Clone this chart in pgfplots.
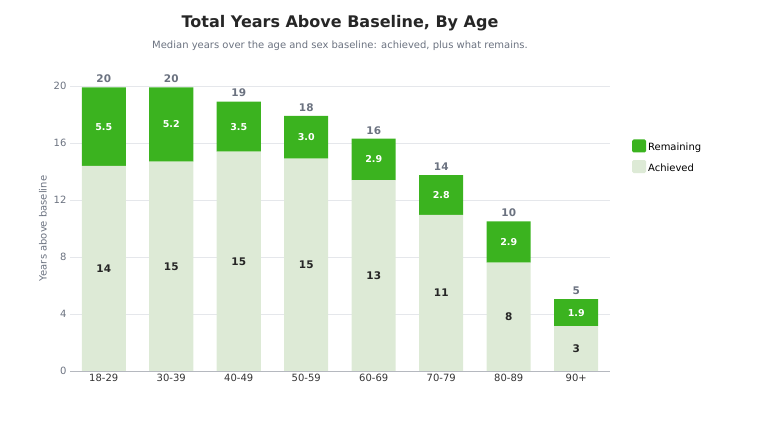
\documentclass[border=0pt]{standalone}
\usepackage{pgfplots}
\pgfplotsset{compat=1.18}
\usepackage{pgfplotstable}
\usepackage{fontspec}
\setmainfont{DejaVu Sans}
\definecolor{dk}{HTML}{3BB31F}
\definecolor{lt}{HTML}{DDEAD6}
\definecolor{gr}{HTML}{6B7280}
\definecolor{gl}{HTML}{E5E7EB}
\pgfplotstableread{
x ach rem tot am rm al rl tl
0 14.4 5.5 19.9 7.2 17.15 14 5.5 20
1 14.7 5.2 19.9 7.35 17.3 15 5.2 20
2 15.4 3.5 18.9 7.7 17.15 15 3.5 19
3 14.9 3.0 17.9 7.45 16.4 15 3.0 18
4 13.4 2.9 16.3 6.7 14.85 13 2.9 16
5 10.95 2.8 13.75 5.475 12.35 11 2.8 14
6 7.6 2.9 10.5 3.8 9.05 8 2.9 10
7 3.15 1.9 5.05 1.575 4.1 3 1.9 5
}\data
\begin{document}
\begin{tikzpicture}
\path (0pt,0pt) rectangle (760pt,430pt);
\node[font=\bfseries\fontsize{16}{19}\selectfont, text=black!85] at (340pt,407pt) {Total Years Above Baseline, By Age};
\node[font=\fontsize{10}{12}\selectfont, text=gr] at (340pt,384pt) {Median years over the age and sex baseline: achieved, plus what remains.};
\begin{axis}[at={(70pt,59pt)}, anchor=south west, scale only axis, width=540pt, height=285pt,
  xmin=-0.5, xmax=7.5, ymin=0, ymax=20, clip=false,
  ybar stacked, bar width=44pt,
  xtick={0,...,7}, xticklabels={18-29,30-39,40-49,50-59,60-69,70-79,80-89,90+},
  ytick={0,4,8,12,16,20}, ymajorgrids, grid style={gl},
  axis x line*=bottom, axis y line*=left, y axis line style={draw=none},
  x axis line style={draw=gr!50},
  tick style={draw=none},
  ticklabel style={font=\fontsize{10}{12}\selectfont},
  yticklabel style={text=gr}, xticklabel style={text=black!80},
  /pgf/number format/assume math mode=true,
  ylabel={Years above baseline}, ylabel style={font=\fontsize{10}{12}\selectfont, text=gr},
  legend style={at={(1.035,0.82)}, anchor=north west, draw=none, font=\fontsize{10}{12}\selectfont, row sep=6pt},
  legend cell align=left, reverse legend,
  legend image code/.code={\fill[#1, rounded corners=1.5pt] (0,-5pt) rectangle (14pt,8pt);},
]
\addplot[fill=lt, draw=none] table[x=x,y=ach]{\data};
\addplot[fill=dk, draw=none] table[x=x,y=rem]{\data};
\legend{Achieved,Remaining}
\end{axis}
\begin{axis}[at={(70pt,59pt)}, anchor=south west, scale only axis, width=540pt, height=285pt,
  xmin=-0.5, xmax=7.5, ymin=0, ymax=20, clip=false, axis lines=none,
  point meta=explicit symbolic, nodes near coords align=center]
\addplot[draw=none, nodes near coords, nodes near coords style={font=\bfseries\fontsize{10.5}{12}\selectfont, text=black!85}] table[x=x,y=am,meta=al]{\data};
\addplot[draw=none, nodes near coords, nodes near coords style={font=\bfseries\fontsize{9.5}{11}\selectfont, text=white}] table[x=x,y=rm,meta=rl]{\data};
\addplot[draw=none, nodes near coords, nodes near coords style={font=\bfseries\fontsize{10.5}{12}\selectfont, text=gr, anchor=south, yshift=1pt}] table[x=x,y=tot,meta=tl]{\data};
\end{axis}
\end{tikzpicture}
\end{document}
